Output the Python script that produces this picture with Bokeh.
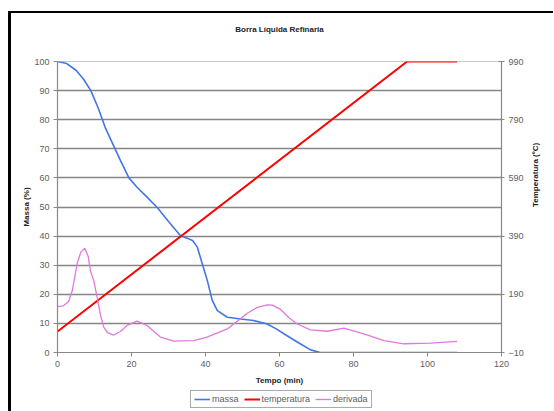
import math
from bokeh.plotting import figure
from bokeh.layouts import column
from bokeh.models import Range1d, LinearAxis, FixedTicker, Legend, LegendItem, Title
from bokeh.embed import file_html
from bokeh.resources import INLINE

# ---- data ----
massa_t = [0, 2.5, 5, 7, 9, 11, 13, 15, 17, 19.3, 21.5, 24.2, 26.9, 30, 33.2, 35, 36.5, 37.8,
           39, 40.5, 41.8, 43.2, 45.9, 49.5, 53, 56.7, 59, 61.5, 64.8, 68.4, 71, 80, 90, 100, 108]
massa_v = [100, 99.3, 97, 94, 90, 84, 77, 71.5, 66, 60, 56.8, 53.4, 49.9, 45, 40.2, 39.3, 38.5, 36.2,
           31, 24.7, 18, 14.4, 12.1, 11.5, 11, 9.8, 8.2, 6.2, 3.6, 0.9, 0, 0, 0, 0, 0]

temp_t = [0, 94.5, 108]
temp_v = [62, 990, 990]

deriv_t = [0, 1.5, 3, 4, 5.3, 6.3, 7.4, 8.3, 8.9, 9.8, 10.7, 11.6, 12.5, 13.5, 15.2, 17, 18.8, 21.5,
           24.2, 27.8, 31.4, 36.8, 40.4, 45.9, 51.3, 54, 56.7, 58, 60.3, 62.5, 64.8, 68.4, 72.9, 77.4,
           82.8, 88.2, 93.6, 100.8, 108]
deriv_v = [15.8, 16, 17.5, 21.3, 30.5, 34.5, 35.8, 33, 28, 24.7, 19, 13, 8.7, 6.8, 6, 7.2, 9.3, 10.8,
           9.3, 5.3, 3.9, 4.1, 5.3, 8.1, 13.5, 15.5, 16.4, 16.3, 14.8, 12, 9.8, 7.8, 7.3, 8.4,
           6.4, 4.1, 3, 3.2, 3.8]

series_names = ["massa", "temperatura", "derivada"]
x_ticks = [0, 20, 40, 60, 80, 100, 120]
left_ticks = [0, 10, 20, 30, 40, 50, 60, 70, 80, 90, 100]
right_ticks = [-10, 190, 390, 590, 790, 990]

FONT = "Liberation Sans"
TXT = "#606060"
AX = "#888888"
C_M, C_T, C_D = "#4275e6", "#ff0000", "#de7ade"

W, H, HL = 542, 376, 22
p = figure(width=W, height=H, output_backend="svg", toolbar_location=None,
           x_range=Range1d(0, 120), y_range=Range1d(0, 100), title=None,
           min_border_left=46, min_border_top=48, min_border_right=52, min_border_bottom=37)
p.extra_y_ranges = {"temp": Range1d(-10, 990)}

# spacer (closest to the frame) then the real title further up
p.add_layout(Title(text=" ", text_font_size="1px", standoff=25, align="center"), "above")
p.add_layout(Title(text="Borra Líquida Refinaria", align="center", vertical_align="bottom",
                   standoff=0, text_font=FONT, text_font_size="8px", text_font_style="bold",
                   text_color="#222222"), "above")

p.outline_line_color = "#c8c8c8"
p.xgrid.visible = False
p.ygrid.ticker = FixedTicker(ticks=[10, 20, 30, 40, 50, 60, 70, 80, 90])
p.ygrid.grid_line_color = "#858585"
p.ygrid.grid_line_width = 1.6

def style_axis(ax, tin, tout):
    ax.axis_line_color = AX
    ax.axis_line_width = 1.2
    ax.major_tick_line_color = AX
    ax.minor_tick_line_color = None
    ax.major_tick_in = tin
    ax.major_tick_out = tout
    ax.major_label_standoff = 4
    ax.major_label_text_font = FONT
    ax.major_label_text_font_size = "9px"
    ax.major_label_text_color = TXT
    ax.axis_label_text_font = FONT
    ax.axis_label_text_font_size = "8px"
    ax.axis_label_text_font_style = "bold"
    ax.axis_label_text_color = "#222222"

style_axis(p.xaxis[0], 0, 4)
style_axis(p.yaxis[0], 0, 4)
p.xaxis.ticker = FixedTicker(ticks=x_ticks)
p.yaxis.ticker = FixedTicker(ticks=left_ticks)
p.xaxis.axis_label = "Tempo (min)"
p.yaxis.axis_label = "Massa (%)"
p.xaxis.axis_label_standoff = 6
p.yaxis.axis_label_standoff = 0

ra = LinearAxis(y_range_name="temp", ticker=FixedTicker(ticks=right_ticks),
                axis_label="Temperatura (ºC)")
style_axis(ra, 3, 3)
ra.axis_label_standoff = 9
ra.axis_label_orientation = math.pi / 2
p.add_layout(ra, "right")

p.line(massa_t, massa_v, line_color=C_M, line_width=1.6)
p.line(temp_t, temp_v, y_range_name="temp", line_color=C_T, line_width=2)
p.line(deriv_t, deriv_v, line_color=C_D, line_width=1.3)

# legend strip below the chart (a second, axis-less figure)
pl = figure(width=W, height=HL, output_backend="svg", toolbar_location=None,
            x_range=Range1d(1000, 1001), y_range=Range1d(1000, 1001),
            x_axis_type=None, y_axis_type=None, min_border=0)
pl.outline_line_color = None
pl.xgrid.visible = False
pl.ygrid.visible = False
lm = pl.line(massa_t, massa_v, line_color=C_M, line_width=1.6)
lt = pl.line(temp_t, temp_v, line_color=C_T, line_width=2)
ld = pl.line(deriv_t, deriv_v, line_color=C_D, line_width=1.3)

legend = Legend(items=[LegendItem(label=n, renderers=[r]) for n, r in zip(series_names, [lm, lt, ld])],
                orientation="horizontal", location=(133, 3))
legend.label_text_font = FONT
legend.label_text_font_size = "9px"
legend.label_text_color = TXT
legend.border_line_color = "#555555"
legend.border_line_width = 1
legend.glyph_width = 16
legend.glyph_height = 8
legend.label_height = 8
legend.padding = 3
legend.spacing = 5
legend.margin = 0
legend.label_standoff = 2
pl.add_layout(legend, "center")

layout = column(p, pl, spacing=0,
                styles={"margin-left": "8px", "margin-top": "11px",
                        "border-left": "3px solid black", "border-top": "2px solid black"})

open("out.html", "w").write(file_html(layout, INLINE))
